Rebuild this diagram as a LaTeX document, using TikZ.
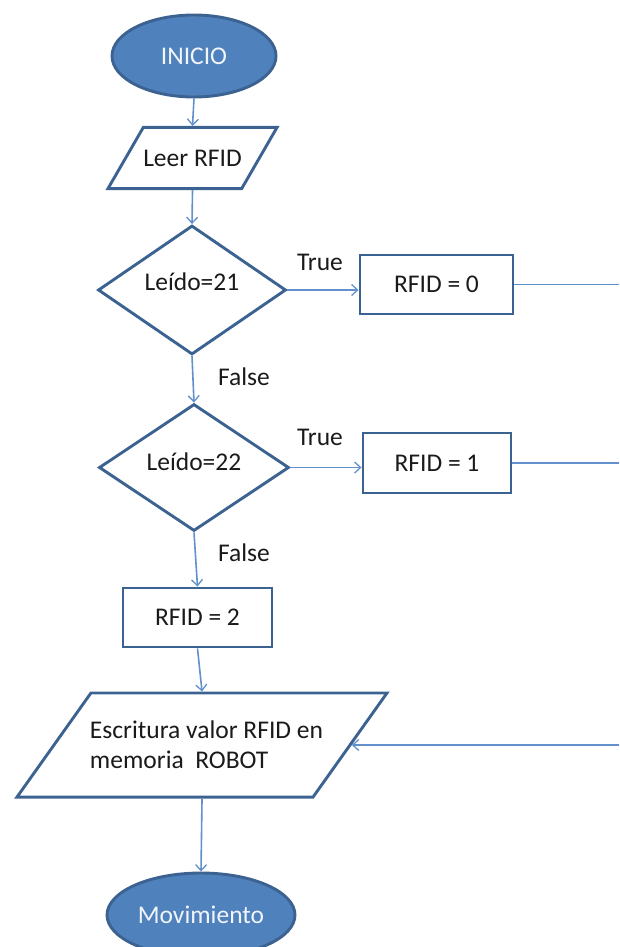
\documentclass[tikz,border=0pt]{standalone}
\usepackage{fontspec}
\setmainfont{Carlito}
\usetikzlibrary{shapes.geometric,arrows.meta}
\definecolor{shapeedge}{HTML}{3B6290}
\definecolor{shapefill}{HTML}{4F81BD}
\definecolor{connline}{HTML}{6290CC}
\definecolor{txt}{HTML}{1A1A1A}
\tikzset{
  base/.style={draw=shapeedge, line width=2.9pt, inner sep=0pt, font=\fontsize{25.5}{30}\selectfont, text=txt},
  term/.style={base, ellipse, fill=shapefill, text=white!92!shapefill},
  io/.style={base, trapezium, trapezium stretches body=true},
  decision/.style={base, diamond},
  proc/.style={base, rectangle},
  lbl/.style={font=\fontsize{25.5}{30}\selectfont, text=txt, inner sep=0pt},
  conn/.style={draw=connline, line width=1.6pt, -{Straight Barb[length=6pt,width=11pt,line width=1.3pt]}},
  plain/.style={draw=connline, line width=1.6pt}
}
\begin{document}
\begin{tikzpicture}[x=1pt,y=-1pt]
\useasboundingbox (0,0) rectangle (619,947);
\clip (0,0) rectangle (619,947);
\coordinate (edgeR) at (619,0);
\node[term, minimum width=164pt, minimum height=82pt] (start) at (194,56) {INICIO};
\node[io, trapezium left angle=60, trapezium right angle=120, minimum width=169pt, inner ysep=22.3pt] (leer) at (192.5,158) {Leer RFID};
\node[decision, minimum width=188pt, minimum height=129pt] (d1) at (192,290) {\raisebox{16pt}{Leído=21}};
\node[proc, minimum width=153pt, minimum height=59pt] (r0) at (436.5,284.5) {RFID = 0};
\node[lbl] (t1) at (320,262) {True};
\node[lbl] (f1) at (244,377) {False};
\node[decision, minimum width=190pt, minimum height=127pt] (d2) at (194,467.5) {\raisebox{11pt}{Leído=22}};
\node[proc, minimum width=148pt, minimum height=60pt] (r1) at (437,463) {RFID = 1};
\node[lbl] (t2) at (320,437) {True};
\node[lbl] (f2) at (244,553) {False};
\node[proc, minimum width=149pt, minimum height=59pt] (r2) at (197.5,617.5) {RFID = 2};
\node[io, trapezium left angle=54.6, trapezium right angle=125.4, minimum width=370pt, inner ysep=28.1pt, inner xsep=-10pt, align=left] (esc) at (202,745) {\hspace*{9pt}Escritura valor RFID en\\\hspace*{9pt}memoria\ \ ROBOT};
\node[term, minimum width=188pt, minimum height=84pt] (mov) at (201,915) {Movimiento};
\draw[conn] (start.south) -- (leer.north);
\draw[conn] (leer.south) -- (d1.north);
\draw[conn] (d1.east) -- (d1.east -| r0.west);
\draw[conn] (d1.south) -- (d2.north);
\draw[conn] (d2.east) -- (d2.east -| r1.west);
\draw[conn] (d2.south) -- (r2.north);
\draw[conn] (r2.south) -- (esc.north);
\draw[conn] (esc.south) -- (mov.north);
\draw[plain] (r0.east) -- (r0.east -| edgeR);
\draw[plain] (r1.east) -- (r1.east -| edgeR);
\draw[conn] (esc.east -| edgeR) -- (esc.east);
\end{tikzpicture}
\end{document}
